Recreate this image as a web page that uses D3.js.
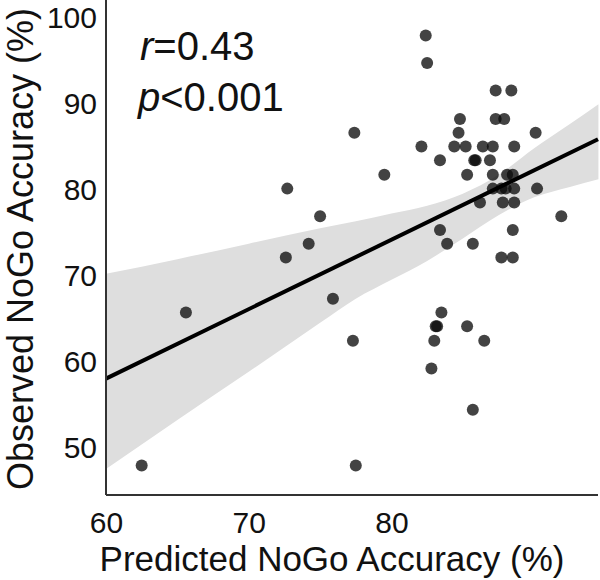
<!DOCTYPE html>
<html>
<head>
<meta charset="utf-8">
<script src="https://cdn.jsdelivr.net/npm/d3@7"></script>
<style>
  html, body { margin: 0; padding: 0; background: #fff; }
  svg { display: block; font-family: "Liberation Sans", Arial, sans-serif; }
</style>
</head>
<body>
<svg id="chart" width="600" height="580"></svg>
<script>
// ---- data ----
const predicted = [82.4, 82.5, 87.3, 88.4, 84.8, 87.3, 87.9, 77.4, 84.7, 90.1,
  82.1, 84.4, 85.2, 86.4, 87.1, 88.6, 83.4, 85.8, 85.9, 86.9,
  79.5, 85.3, 87.1, 88.1, 88.5, 72.7, 87.1, 87.7, 88.0, 88.6,
  90.2, 86.2, 87.8, 88.6, 75.0, 91.9, 83.4, 88.5, 74.2, 83.9,
  85.7, 72.6, 87.7, 88.5, 75.9, 65.6, 83.5, 83.1, 83.2, 85.3,
  77.3, 83.0, 86.5, 82.8, 85.7, 62.5, 77.5];
const observed = [97.9, 94.7, 91.5, 91.5, 88.2, 88.2, 88.2, 86.6, 86.6, 86.6,
  85.0, 85.0, 85.0, 85.0, 85.0, 85.0, 83.4, 83.4, 83.4, 83.4,
  81.7, 81.7, 81.7, 81.7, 81.7, 80.1, 80.1, 80.1, 80.1, 80.1,
  80.1, 78.5, 78.5, 78.5, 76.9, 76.9, 75.3, 75.3, 73.7, 73.7,
  73.7, 72.1, 72.1, 72.1, 67.3, 65.7, 65.7, 64.1, 64.1, 64.1,
  62.4, 62.4, 62.4, 59.2, 54.4, 47.9, 47.9];

// regression fit and its confidence band
const fitIntercept = 9.57;
const fitSlope = 0.8074;
const bandX     = [60, 65, 70, 75, 77.5, 80, 82.5, 85, 87.5, 90, 92.5, 94.5];
const bandLower = [47.5, 53.2, 58.8, 64.5, 67.3, 69.5, 71.7, 74.3, 77.0, 79.1, 80.3, 81.2];
const bandUpper = [70.2, 71.9, 73.7, 75.5, 76.3, 77.2, 78.1, 79.5, 81.7, 84.8, 87.6, 89.9];

const xTicks = [60, 70, 80];
const yTicks = [50, 60, 70, 80, 90, 100];
const xTitle = "Predicted NoGo Accuracy (%)";
const yTitle = "Observed NoGo Accuracy (%)";

// ---- layout ----
const svg = d3.select("#chart");
const mLeft = 106, mRight = 598, mTop = 0, mBottom = 495;

const x = d3.scaleLinear().domain([60, 94.47]).range([mLeft, mRight]);
const y = d3.scaleLinear().domain([44.48, 102.03]).range([mBottom, mTop]);

// confidence band
const bandData = bandX.map((v, i) => ({x: v, lo: bandLower[i], hi: bandUpper[i]}));
svg.append("path")
  .datum(bandData)
  .attr("fill", "#dedede")
  .attr("d", d3.area().x(d => x(d.x)).y0(d => y(d.lo)).y1(d => y(d.hi)).curve(d3.curveMonotoneX));

// points
const pts = predicted.map((v, i) => ({x: v, y: observed[i]}));
svg.append("g").selectAll("circle")
  .data(pts).enter().append("circle")
  .attr("cx", d => x(d.x))
  .attr("cy", d => y(d.y))
  .attr("r", 6)
  .attr("fill", "#0a0a0a")
  .attr("fill-opacity", 0.77);

// regression line
const xd = x.domain();
svg.append("line")
  .attr("x1", x(xd[0])).attr("y1", y(fitIntercept + fitSlope * xd[0]))
  .attr("x2", x(xd[1])).attr("y2", y(fitIntercept + fitSlope * xd[1]))
  .attr("stroke", "#000").attr("stroke-width", 4);

// axes
const xAxis = d3.axisBottom(x).tickValues(xTicks).tickSize(0).tickPadding(0).tickFormat(d3.format("d"));
const gx = svg.append("g").attr("transform", `translate(0,${mBottom})`).call(xAxis);
gx.select(".domain").attr("stroke", "#333").attr("stroke-width", 2).attr("d", `M${mLeft},0H${mRight}`);
gx.selectAll("text").attr("font-size", 30).attr("fill", "#111")
  .attr("font-family", "Liberation Sans, Arial, sans-serif")
  .attr("dy", null).attr("y", 38);

const yAxis = d3.axisLeft(y).tickValues(yTicks).tickSize(0).tickPadding(9).tickFormat(d3.format("d"));
const gy = svg.append("g").attr("transform", `translate(${mLeft},0)`).call(yAxis);
gy.select(".domain").attr("stroke", "#333").attr("stroke-width", 2).attr("d", `M0,${mTop}V${mBottom}`);
gy.selectAll("text").attr("font-size", 30).attr("fill", "#111")
  .attr("font-family", "Liberation Sans, Arial, sans-serif");

// axis titles
svg.append("text")
  .attr("x", 332).attr("y", 571)
  .attr("text-anchor", "middle")
  .attr("font-size", 35).attr("fill", "#111")
  .text(xTitle);

svg.append("text")
  .attr("transform", "translate(33,249) rotate(-90)")
  .attr("text-anchor", "middle")
  .attr("font-size", 36).attr("fill", "#111")
  .text(yTitle);

// statistics annotation
const t1 = svg.append("text").attr("x", 140).attr("y", 60).attr("font-size", 40).attr("fill", "#111");
t1.append("tspan").attr("font-style", "italic").text("r");
t1.append("tspan").text("=0.43");
const t2 = svg.append("text").attr("x", 138).attr("y", 111).attr("font-size", 40).attr("fill", "#111");
t2.append("tspan").attr("font-style", "italic").text("p");
t2.append("tspan").text("<0.001");
</script>
</body>
</html>
